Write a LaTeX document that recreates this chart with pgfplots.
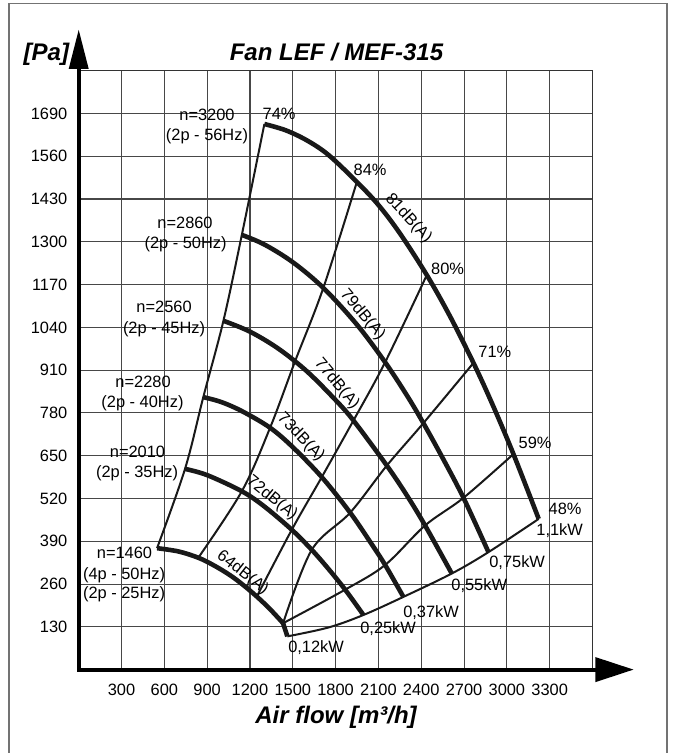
\documentclass[border=0pt]{standalone}
\usepackage{fontspec}
\setmainfont{Liberation Sans}
\usepackage{pgfplots}
\pgfplotsset{compat=1.18}
\newcommand{\sm}{\fontsize{8.2}{9.5}\selectfont}
\begin{document}
\begin{tikzpicture}
\draw[black!55, line width=0.9pt] (4.5pt,-1.75pt) rectangle (333.5pt,-380pt);
\node[font=\fontsize{12}{14}\selectfont\bfseries\itshape, anchor=base] at (168.25pt,-30.3pt) {Fan LEF / MEF-315};
\node[font=\fontsize{12}{14}\selectfont\bfseries\itshape, anchor=base] at (23.2pt,-30.3pt) {[Pa]};
\node[font=\fontsize{12}{14}\selectfont\bfseries\itshape, anchor=base] at (168pt,-361.7pt) {Air flow [m³/h]};
\begin{axis}[
  at={(39.35pt,-334.8pt)}, anchor=south west,
  scale only axis, width=256.9pt, height=299.45pt,
  xmin=0, xmax=3600, ymin=0, ymax=1820,
  xtick={300,600,...,3300}, ytick={130,260,...,1690},
  axis line style={draw=none},
  major tick length=0pt,
  grid=major, major grid style={draw=black!72, line width=0.55pt},
  tick label style={font=\sm, /pgf/number format/assume math mode=true},
  /pgf/number format/1000 sep={},
  xticklabel style={anchor=center, yshift=-10.2pt},
  yticklabel style={anchor=east, inner sep=0pt, xshift=-5.5pt},
  clip=false,
  thinl/.style={black!90, line width=1pt, smooth, tension=0.55},
  thickl/.style={black!90, line width=2.3pt, smooth, tension=0.55},
]
% plot frame
\draw[black!80, line width=0.65pt] (rel axis cs:0,0) rectangle (rel axis cs:1,1);

% thin system / efficiency lines
\addplot[thinl] coordinates {(1301,1658) (1143,1321) (1014,1060) (873,828) (745,610) (549,369)};
\addplot[thinl] coordinates {(1949,1482) (1714,1160) (1516,937) (1341,735) (1143,542) (838,340)};
\addplot[thinl] coordinates {(2439,1199) (2147,934) (1925,757) (1703,585) (1493,425) (1248,222)};
\addplot[thinl] coordinates {(2766,932) (2415,749) (2159,620) (1902,477) (1633,364) (1432,141)};
\addplot[thinl] coordinates {(3046,655) (2696,522) (2427,438) (2147,318) (1867,243) (1432,141)};
\addplot[thinl] coordinates {(1462,101) (1750,128) (1995,166) (2275,221) (2614,292) (2871,357) (3223,458)};

% thick fan speed curves
\addplot[thickl] coordinates {(1301,1658) (1450,1639) (1600,1608) (1750,1564) (1949,1482) (2100,1412) (2250,1326) (2439,1199) (2600,1075) (2766,932) (2900,805) (3046,655) (3223,458)};
\addplot[thickl] coordinates {(1143,1321) (1300,1292) (1500,1238) (1714,1160) (1950,1048) (2147,934) (2300,833) (2415,749) (2550,643) (2696,522) (2871,357)};
\addplot[thickl] coordinates {(1014,1060) (1200,1027) (1400,975) (1600,906) (1800,819) (1925,757) (2159,620) (2300,529) (2427,438) (2614,292)};
\addplot[thickl] coordinates {(873,828) (1000,813) (1150,784) (1341,735) (1500,676) (1703,585) (1902,477) (2050,383) (2147,318) (2275,221)};
\addplot[thickl] coordinates {(745,610) (900,591) (1143,542) (1300,496) (1493,425) (1633,364) (1750,306) (1867,243) (1995,166)};
\addplot[thickl] coordinates {(549,369) (700,359) (838,340) (950,316) (1060,287) (1150,258) (1248,222) (1340,184) (1432,141)};
\addplot[black!90, line width=2.3pt] coordinates {(1432,141) (1462,101)};

% axes with arrows
\draw[line width=2pt, line cap=rect] (axis cs:0,0) -- (axis cs:3640,0);
\draw[line width=2pt, line cap=rect] (axis cs:0,0) -- (axis cs:0,1840);
\fill (axis cs:3887,0) -- ([shift={(-19pt,6.25pt)}]axis cs:3887,0) -- ([shift={(-19pt,-6.25pt)}]axis cs:3887,0) -- cycle;
\fill (axis cs:0,1944) -- ([shift={(-5pt,-19.5pt)}]axis cs:0,1944) -- ([shift={(5pt,-19.5pt)}]axis cs:0,1944) -- cycle;

% speed labels
\node[font=\sm, anchor=base] at (axis cs:899,1669) {n=3200};
\node[font=\sm, anchor=base] at (axis cs:899,1608) {(2p - 56Hz)};
\node[font=\sm, anchor=base] at (axis cs:745,1340) {n=2860};
\node[font=\sm, anchor=base] at (axis cs:749,1279) {(2p - 50Hz)};
\node[font=\sm, anchor=base] at (axis cs:598,1084) {n=2560};
\node[font=\sm, anchor=base] at (axis cs:598,1022) {(2p - 45Hz)};
\node[font=\sm, anchor=base] at (axis cs:451,857) {n=2280};
\node[font=\sm, anchor=base] at (axis cs:447,796) {(2p - 40Hz)};
\node[font=\sm, anchor=base] at (axis cs:412,646) {n=2010};
\node[font=\sm, anchor=base] at (axis cs:409,585) {(2p - 35Hz)};
\node[font=\sm, anchor=base] at (axis cs:321,338) {n=1460};
\node[font=\sm, anchor=base] at (axis cs:318,274) {(4p - 50Hz)};
\node[font=\sm, anchor=base] at (axis cs:318,215) {(2p - 25Hz)};

% efficiency labels
\node[font=\sm, anchor=base] at (axis cs:1404,1672) {74\%};
\node[font=\sm, anchor=base] at (axis cs:2042,1503) {84\%};
\node[font=\sm, anchor=base] at (axis cs:2585,1200) {80\%};
\node[font=\sm, anchor=base] at (axis cs:2916,949) {71\%};
\node[font=\sm, anchor=base] at (axis cs:3198,673) {59\%};
\node[font=\sm, anchor=base] at (axis cs:3408,471) {48\%};

% power labels
\node[font=\sm, anchor=base] at (axis cs:3370,408) {1,1kW};
\node[font=\sm, anchor=base] at (axis cs:3072,311) {0,75kW};
\node[font=\sm, anchor=base] at (axis cs:2806,239) {0,55kW};
\node[font=\sm, anchor=base] at (axis cs:2469,158) {0,37kW};
\node[font=\sm, anchor=base] at (axis cs:2168,109) {0,25kW};
\node[font=\sm, anchor=base] at (axis cs:1663,52) {0,12kW};

% noise labels
\node[font=\sm, rotate=-47] at (axis cs:2310,1372) {81dB(A)};
\node[font=\sm, rotate=-50] at (axis cs:1989,1079) {79dB(A)};
\node[font=\sm, rotate=-50] at (axis cs:1808,868) {77dB(A)};
\node[font=\sm, rotate=-46] at (axis cs:1557,706) {73dB(A)};
\node[font=\sm, rotate=-39] at (axis cs:1353,521) {72dB(A)};
\node[font=\sm, rotate=-38] at (axis cs:1148,294) {64dB(A)};
\end{axis}
\pgfresetboundingbox
\path[use as bounding box] (0pt,0pt) rectangle (336.5pt,-376.5pt);
\end{tikzpicture}
\end{document}
